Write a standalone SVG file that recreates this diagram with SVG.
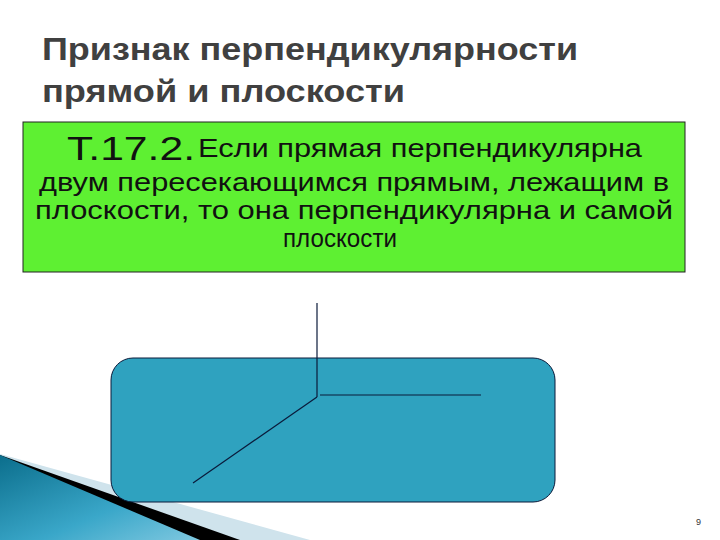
<svg xmlns="http://www.w3.org/2000/svg" width="720" height="540" viewBox="0 0 720 540">
<defs>
<linearGradient id="sw" x1="0" y1="0" x2="1" y2="1"><stop offset="0" stop-color="#0b6e8c"/><stop offset="0.6" stop-color="#3aa7c9"/><stop offset="1" stop-color="#7fc8e0"/></linearGradient>
<style>.t{font-family:"Liberation Sans",Arial,sans-serif;fill:#111}.h{font-family:"Liberation Sans",Arial,sans-serif;font-weight:bold;font-size:31px;fill:#404040}.ln{stroke:#0a1a3a;stroke-width:1.2;fill:none}</style>
</defs>
<rect width="720" height="540" fill="#fff"/>
<g id="decor">
<polygon points="0,454 310,540 0,540" fill="#cfe3ec"/>
<polygon points="0,455 240,540 0,540" fill="#000"/>
<polygon points="0,455 200,540 0,540" fill="url(#sw)"/>
</g>
<text class="h" x="42" y="60" textLength="536" lengthAdjust="spacingAndGlyphs">Признак перпендикулярности</text>
<text class="h" x="42" y="102" textLength="363" lengthAdjust="spacingAndGlyphs">прямой и плоскости</text>
<g id="theorem">
<rect x="23" y="122" width="662" height="150" fill="#5ef032" stroke="#222" stroke-width="1"/>
<text class="t" x="67" y="160" font-size="33" textLength="128" lengthAdjust="spacingAndGlyphs">Т.17.2.</text>
<text class="t" x="198" y="157" font-size="26" textLength="444" lengthAdjust="spacingAndGlyphs">Если прямая перпендикулярна</text>
<text class="t" x="354" y="191" font-size="26" text-anchor="middle" textLength="630" lengthAdjust="spacingAndGlyphs">двум пересекающимся прямым, лежащим в</text>
<text class="t" x="354" y="219" font-size="26" text-anchor="middle" textLength="638" lengthAdjust="spacingAndGlyphs">плоскости, то она перпендикулярна и самой</text>
<text class="t" x="340" y="247" font-size="26" text-anchor="middle" textLength="114" lengthAdjust="spacingAndGlyphs">плоскости</text>
</g>
<g id="plane">
<rect x="111" y="358" width="444" height="144" rx="22" fill="#2fa2bf" stroke="#0a1a3a" stroke-width="1"/>
</g>
<g id="connectors">
<line class="ln" x1="317" y1="303" x2="317" y2="397"/>
<line class="ln" x1="320" y1="395" x2="481" y2="395"/>
<line class="ln" x1="317" y1="397" x2="193" y2="483"/>
</g>
<text x="696" y="525" font-family="Liberation Sans,sans-serif" font-size="9" fill="#333">9</text>
</svg>
